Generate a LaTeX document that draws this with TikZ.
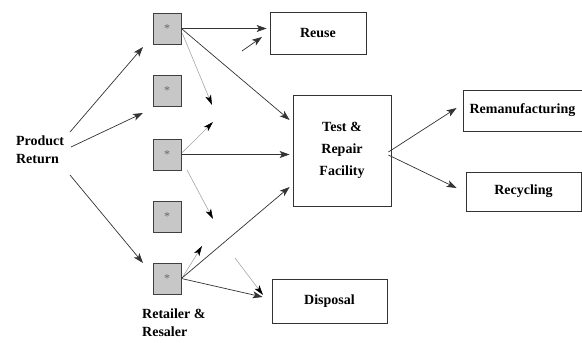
\documentclass[tikz,border=0pt]{standalone}
\usepackage{fontspec}
\setmainfont{Liberation Serif}
\usetikzlibrary{arrows.meta}
\begin{document}
\begin{tikzpicture}[x=1pt,y=-1pt,
  sq/.style={draw=black!75,fill=black!22,line width=0.8pt,minimum width=28pt,minimum height=31pt,inner sep=0pt,
    font=\fontsize{12}{12}\selectfont\color{black!60}},
  box/.style={draw=black!80,line width=0.8pt,inner sep=0pt,font=\fontsize{14}{17}\selectfont\bfseries},
  lbl/.style={align=left,inner sep=0pt,font=\fontsize{14}{18}\selectfont\bfseries},
  arr/.style={draw=black!80,line width=0.7pt,-{Stealth[length=10pt,width=7pt,inset=2.5pt]}},
  garr/.style={draw=black!35,line width=0.6pt,-{Stealth[length=10pt,width=6pt,inset=2.5pt,fill=black,color=black]}}]
\useasboundingbox (0,0) rectangle (582,343);
% gray squares
\node[sq] (s1) at (167,28.5) {\raisebox{-2pt}{*}};
\node[sq] (s2) at (167,91) {\raisebox{-2pt}{*}};
\node[sq] (s3) at (167,154.5) {\raisebox{-2pt}{*}};
\node[sq] (s4) at (167,216.5) {\raisebox{-2pt}{*}};
\node[sq] (s5) at (167,278.5) {\raisebox{-2pt}{*}};
% labels
\node[lbl] (pr) at (40,150) {Product\\Return};
\node[lbl,anchor=north west] (rr) at (142,309) {Retailer \&\\Resaler};
% boxes
\node[box,minimum width=96pt,minimum height=42pt] (reuse) at (318,33) {Reuse};
\node[box,minimum width=98pt,minimum height=111pt,align=center,font=\fontsize{14}{22}\selectfont\bfseries] (test) at (342,150.5) {Test \&\\Repair\\Facility};
\node[box,minimum width=119pt,minimum height=41pt] (reman) at (522.5,110.5) {Remanufacturing};
\node[box,minimum width=115pt,minimum height=39pt] (recyc) at (523.5,191.5) {Recycling};
\node[box,minimum width=115pt,minimum height=44pt] (disp) at (329.5,301) {Disposal};
% free ends
\coordinate (r0) at (242,51);
\coordinate (r1) at (262,37);
\coordinate (g1) at (212,105);
\coordinate (g2) at (213,122);
\coordinate (g3a) at (187,170);
\coordinate (g3) at (213,219);
\coordinate (g4) at (202,246);
\coordinate (g5a) at (235,258);
\coordinate (g5) at (263,295);
% arrows from Product Return
\draw[arr] ([shift={(30,-18)}]pr.center) -- ([shift={(-24,18.5)}]s1.center);
\draw[arr] ([shift={(31,-3)}]pr.center) -- ([shift={(-24,22)}]s2.center);
\draw[arr] ([shift={(30,25)}]pr.center) -- ([shift={(-24,-15.5)}]s5.center);
% from square 1
\draw[arr] (s1.east) -- ([xshift=-3pt]s1.east -| reuse.west);
\draw[arr] (r0) -- (r1);
\draw[arr] (s1.east) -- ([shift={(-3,-30.5)}]test.west);
\draw[garr] ([shift={(1,5)}]s1.east) -- (g1);
% from square 3
\draw[garr] ([shift={(1,-2)}]s3.east) -- (g2);
\draw[arr] (s3.east) -- ([xshift=-3pt]s3.east -| test.west);
\draw[garr] (g3a) -- (g3);
% from square 5
\draw[garr] ([shift={(1,-1)}]s5.east) -- (g4);
\draw[arr] (s5.east) -- ([shift={(-3,36.5)}]test.west);
\draw[arr] (s5.east) -- ([xshift=-9pt,yshift=4pt]disp.west);
\draw[garr] (g5a) -- (g5);
% from test
\draw[arr] ([shift={(-3,1.5)}]test.east) -- ([shift={(-6,-2.5)}]reman.west);
\draw[arr] ([shift={(-3,4.5)}]test.east) -- ([shift={(-9,-3.5)}]recyc.west);
\end{tikzpicture}
\end{document}
